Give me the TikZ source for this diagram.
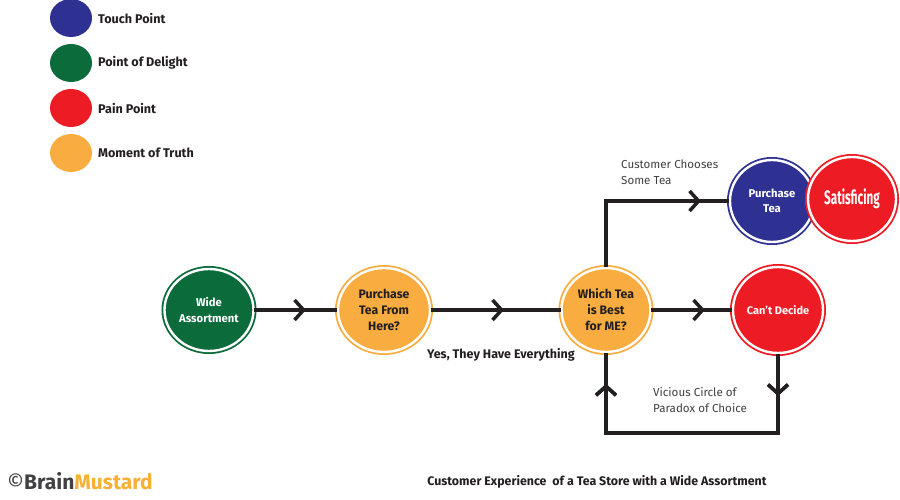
\documentclass[tikz,border=0pt]{standalone}
\usepackage{fontspec}
\setmainfont{Fira Sans}
\usepackage{graphicx}
\usetikzlibrary{shapes.geometric,arrows.meta,decorations.markings}
\definecolor{tpblue}{HTML}{2E3192}
\definecolor{dgreen}{HTML}{0B6B3A}
\definecolor{pred}{HTML}{ED1C24}
\definecolor{mtorange}{HTML}{F9AD40}
\definecolor{ink}{HTML}{231F20}
\definecolor{mustard}{HTML}{F7B033}
\definecolor{graytxt}{HTML}{414042}
\tikzset{
  legdot/.style={ellipse, minimum width=42pt, minimum height=38pt, inner sep=0pt, fill=#1},
  legtxt/.style={anchor=west, inner sep=0pt, font=\bfseries\fontsize{12.6}{14}\selectfont, text=ink},
  stage/.style={ellipse, fill=#1, draw=#1, double=white, double distance=2.4pt, line width=1.8pt,
    inner sep=0pt, align=center, font=\bfseries\fontsize{12.3}{16}\selectfont},
  conn/.style={draw=ink, line width=3.5pt},
  chev/.style={postaction={decorate}, decoration={markings,
    mark=at position #1 with {\arrow{Straight Barb[length=9pt,width=20pt]}}}},
  note/.style={anchor=west, inner sep=0pt, align=left, text=graytxt, font=\fontsize{11.6}{16}\selectfont},
}
\begin{document}
\begin{tikzpicture}[x=1pt,y=-1pt]
\useasboundingbox[fill=white] (0,0) rectangle (900,500);
% legend
\node[legdot=tpblue] (l1) at (71,18) {};
\node[legdot=dgreen] (l2) at (71,63) {};
\node[legdot=pred] (l3) at (71,108) {};
\node[legdot=mtorange] (l4) at (71,153) {};
\node[legtxt] (t1) at (98,18) {Touch Point};
\node[legtxt] (t2) at (98,63) {Point of Delight};
\node[legtxt] (t3) at (98,108) {Pain Point};
\node[legtxt] (t4) at (98,153) {Moment of Truth};
% stages
\node[stage=dgreen, text=white, minimum width=89pt, minimum height=82pt, font=\bfseries\fontsize{11.3}{15.5}\selectfont] (wide) at (209,310) {Wide\\Assortment};
\node[stage=mtorange, text=ink, minimum width=92pt, minimum height=84pt] (purch) at (384,310) {Purchase\\Tea From\\Here?};
\node[stage=mtorange, text=ink, minimum width=89pt, minimum height=84pt] (which) at (606,310) {Which Tea\\is Best\\for ME?};
\node[stage=pred, text=white, minimum width=90pt, minimum height=86pt, font=\bfseries\fontsize{11}{14}\selectfont] (cant) at (778,310) {Can’t Decide};
\node[stage=tpblue, text=white, minimum width=84pt, minimum height=82pt, font=\bfseries\fontsize{11.3}{14.5}\selectfont] (ptea) at (772,201) {Purchase\\Tea};
\node[stage=pred, text=white, minimum width=88pt, minimum height=84pt, font=\bfseries\fontsize{19.5}{20}\selectfont] (satis) at (852,199) {\scalebox{0.6}[1]{Satisficing}};
% connectors
\draw[conn, chev=51.5pt] (wide.east) -- (purch.west);
\draw[conn, chev=73pt] (purch.east) -- (which.west);
\draw[conn, chev=53.5pt] (which.east) -- (cant.west);
\draw[conn, chev=161pt] (which.north) |- (ptea.west);
\draw[conn, chev=42pt, chev=300pt] (cant.south) -- ++(0,79) -| (which.south);
% labels
\node[inner sep=0pt, text=ink, font=\bfseries\fontsize{12.5}{14}\selectfont] (yes) at (501,355) {Yes, They Have Everything};
\node[note] (choose) at (621,172) {Customer Chooses\\Some Tea};
\node[note] (vicious) at (653,400) {Vicious Circle of\\Paradox of Choice};
% footer
\node[anchor=west, inner sep=0pt, font=\bfseries\fontsize{21}{22}\selectfont] (logo) at (7,481)
  {\textcolor{graytxt}{{\mdseries ©}Brain}\textcolor{mustard}{Mustard}};
\node[inner sep=0pt, text=ink, font=\bfseries\fontsize{12.4}{14}\selectfont] (title) at (597,482)
  {Customer Experience\ \ of a Tea Store with a Wide Assortment};
\end{tikzpicture}
\end{document}
